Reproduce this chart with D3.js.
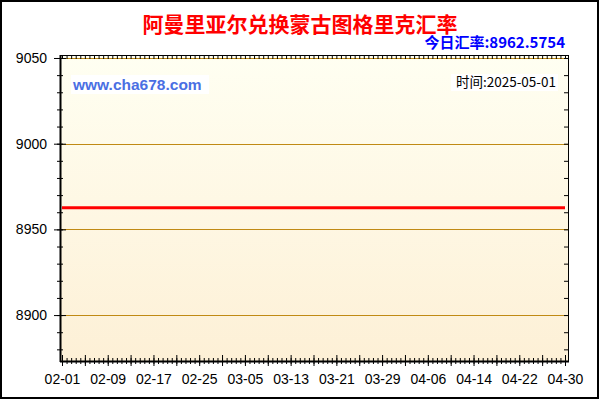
<!DOCTYPE html>
<html>
<head>
<meta charset="utf-8">
<script src="https://cdn.jsdelivr.net/npm/d3@7"></script>
<style>
  body { margin: 0; background: #fff; }
  svg { display: block; }
</style>
</head>
<body>
<svg width="600" height="400"></svg>
<script>
// chart data
var title = "阿曼里亚尔兑换蒙古图格里克汇率";
var todayRate = "今日汇率:8962.5754";
var siteText = "www.cha678.com";
var timeText = "时间:2025-05-01";
var seriesDates = ["2025-02-01", "2025-04-30"];
var seriesValues = [8962.5754, 8962.5754];
var xLabels = ["02-01", "02-09", "02-17", "02-25", "03-05", "03-13", "03-21", "03-29", "04-06", "04-14", "04-22", "04-30"];
var yLabels = [8900, 8950, 9000, 9050];

var svg = d3.select("svg");
var parse = d3.utcParse("%Y-%m-%d");

// plot box (note: "top" is a reserved window property, so use other names)
var pLeft = 60, pRight = 568, pTop = 55, pBottom = 361;

var x = d3.scaleUtc()
    .domain([parse("2025-02-01"), parse("2025-04-30")])
    .range([62, 565]);
var y = d3.scaleLinear()
    .domain([8873.2, 9051.75])
    .range([pBottom, pTop]);

// background gradient of the plot
var grad = svg.append("defs").append("linearGradient")
    .attr("id", "bg").attr("x1", 0).attr("y1", 0).attr("x2", 0).attr("y2", 1);
grad.append("stop").attr("offset", "0%").attr("stop-color", "#fffff2");
grad.append("stop").attr("offset", "100%").attr("stop-color", "#fdf0d6");

svg.append("rect")
    .attr("x", 1).attr("y", 1).attr("width", 597).attr("height", 397)
    .attr("fill", "#fff").attr("stroke", "#000").attr("stroke-width", 2);

svg.append("rect")
    .attr("x", pLeft).attr("y", pTop)
    .attr("width", pRight - pLeft).attr("height", pBottom - pTop)
    .attr("fill", "url(#bg)");

// grid lines
svg.selectAll("line.grid").data(yLabels).enter().append("line")
    .attr("class", "grid")
    .attr("x1", pLeft).attr("x2", pRight)
    .attr("y1", function(d){return Math.round(y(d)) + 0.5;})
    .attr("y2", function(d){return Math.round(y(d)) + 0.5;})
    .attr("stroke", "#c08a14").attr("stroke-width", 1);

// tick positions
var start = parse("2025-02-01");
var dayMs = 86400000;
var majorX = [], minorX = [];
for (var i = 0; i <= 22; i++) majorX.push(new Date(+start + i * 4 * dayMs));
for (var j = 0; j <= 110; j++) minorX.push(new Date(+start + j * 0.8 * dayMs));
var minorY = d3.range(8880, 9051, 10);

function noDomain(g) { g.select(".domain").remove(); }

// bottom axis: minor, major, labels
svg.append("g").attr("transform", "translate(0,358)")
    .call(d3.axisBottom(x).tickValues(minorX).tickSize(6).tickFormat(""))
    .call(noDomain);
svg.append("g").attr("transform", "translate(0,355)")
    .call(d3.axisBottom(x).tickValues(majorX).tickSize(11).tickFormat(""))
    .call(noDomain);
svg.append("g").attr("transform", "translate(0,371)")
    .call(d3.axisBottom(x)
        .tickValues(xLabels.map(function(d){return parse("2025-" + d);}))
        .tickSize(0)
        .tickFormat(d3.utcFormat("%m-%d")))
    .call(function(g){
        g.select(".domain").remove();
        g.selectAll("text").attr("font-family", "Liberation Sans, Arial, sans-serif")
            .attr("font-size", 14).attr("fill", "#000");
    });

// top ticks (inward)
svg.append("g").attr("transform", "translate(0," + pTop + ")")
    .call(d3.axisBottom(x).tickValues(minorX).tickSize(4).tickFormat(""))
    .call(noDomain);

// left axis
svg.append("g").attr("transform", "translate(63,0)")
    .call(d3.axisLeft(y).tickValues(minorY).tickSize(6).tickFormat(""))
    .call(noDomain);
svg.append("g").attr("transform", "translate(66,0)")
    .call(d3.axisLeft(y).tickValues(yLabels).tickSize(12).tickFormat(""))
    .call(noDomain);
svg.append("g").attr("transform", "translate(47,0)")
    .call(d3.axisLeft(y).tickValues(yLabels).tickSize(0).tickPadding(0).tickFormat(d3.format("d")))
    .call(function(g){
        g.select(".domain").remove();
        g.selectAll("text").attr("font-family", "Liberation Sans, Arial, sans-serif")
            .attr("font-size", 14).attr("fill", "#000");
    });

// right ticks (inward)
svg.append("g").attr("transform", "translate(" + pRight + ",0)")
    .call(d3.axisLeft(y).tickValues(minorY).tickSize(4).tickFormat(""))
    .call(noDomain);

// frame
svg.append("rect")
    .attr("x", pLeft + 0.5).attr("y", pTop + 0.5)
    .attr("width", pRight - pLeft).attr("height", pBottom - pTop)
    .attr("fill", "none").attr("stroke", "#000").attr("stroke-width", 1);
svg.append("line")
    .attr("x1", pLeft + 0.5).attr("x2", pLeft + 0.5)
    .attr("y1", pTop).attr("y2", pBottom + 1)
    .attr("stroke", "#000").attr("stroke-width", 2);
svg.append("line")
    .attr("x1", pLeft).attr("x2", pRight + 1)
    .attr("y1", pBottom + 0.5).attr("y2", pBottom + 0.5)
    .attr("stroke", "#000").attr("stroke-width", 2);

// rate line
var line = d3.line()
    .x(function(d, i){return x(parse(seriesDates[i]));})
    .y(function(d){return y(d);});
svg.append("path").datum(seriesValues)
    .attr("d", line)
    .attr("fill", "none").attr("stroke", "#ff0000").attr("stroke-width", 3);

// texts
svg.append("text")
    .attr("x", 300).attr("y", 32)
    .attr("text-anchor", "middle")
    .attr("font-family", "Noto Sans CJK SC, sans-serif")
    .attr("font-weight", "bold").attr("font-size", 21)
    .attr("fill", "#ff0000")
    .text(title);

svg.append("text")
    .attr("x", 565).attr("y", 48)
    .attr("text-anchor", "end")
    .attr("font-family", "Noto Sans CJK SC, sans-serif")
    .attr("font-weight", "bold").attr("font-size", 15)
    .attr("fill", "#0000ff")
    .text(todayRate);

svg.append("rect")
    .attr("x", 71).attr("y", 75).attr("width", 138).attr("height", 19)
    .attr("fill", "#fff");
svg.append("text")
    .attr("x", 73).attr("y", 90)
    .attr("font-family", "Liberation Sans, Arial, sans-serif")
    .attr("font-weight", "bold").attr("font-size", 15.5)
    .attr("fill", "#4a6fe3")
    .text(siteText);

svg.append("rect")
    .attr("x", 451).attr("y", 74).attr("width", 107).attr("height", 17)
    .attr("fill", "#fff");
svg.append("text")
    .attr("x", 556).attr("y", 87)
    .attr("text-anchor", "end")
    .attr("font-family", "Noto Sans CJK SC, sans-serif")
    .attr("font-size", 13.5)
    .attr("fill", "#000")
    .text(timeText);
</script>
</body>
</html>
